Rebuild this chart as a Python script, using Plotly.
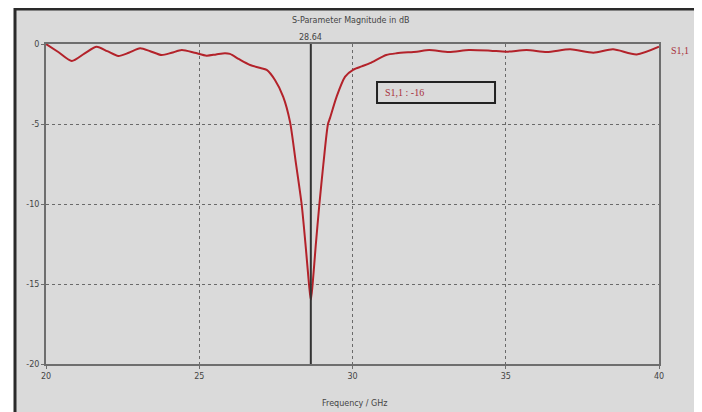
import plotly.graph_objects as go

# Frequency (GHz) and S1,1 magnitude (dB)
freq = [20.0, 20.4, 20.84, 21.25, 21.65, 22.0, 22.36, 22.7, 23.07, 23.4, 23.77, 24.1,
        24.43, 24.85, 25.24, 25.55, 25.84, 26.0, 26.3, 26.66, 27.0, 27.2, 27.47, 27.74,
        27.96, 28.15, 28.34, 28.48, 28.58, 28.64, 28.70, 28.8, 28.92, 29.05, 29.2, 29.27,
        29.48, 29.76, 30.03, 30.3, 30.57, 31.1, 31.44, 32.1, 32.5, 33.15, 33.8, 34.5,
        35.03, 35.68, 36.34, 37.1, 37.86, 38.5, 39.27, 40.0]
s11 = [0.0, -0.5, -1.06, -0.6, -0.17, -0.45, -0.75, -0.55, -0.27, -0.45, -0.69, -0.55,
       -0.38, -0.55, -0.73, -0.65, -0.58, -0.62, -0.95, -1.31, -1.5, -1.62, -2.25, -3.3,
       -4.85, -7.4, -10.0, -12.8, -15.0, -16.0, -15.0, -12.6, -10.0, -7.5, -5.0, -4.6,
       -3.3, -2.04, -1.6, -1.4, -1.2, -0.69, -0.58, -0.48, -0.38, -0.5, -0.375, -0.42,
       -0.48, -0.375, -0.5, -0.33, -0.54, -0.33, -0.65, -0.17]

x_ticks = [20, 25, 30, 35, 40]
y_ticks = [0, -5, -10, -15, -20]
marker_freq = 28.64
marker_label = "28.64"
marker_value_text = "S1,1 : -16"
trace_name = "S1,1"
title_text = "S-Parameter Magnitude in dB"
xaxis_text = "Frequency / GHz"

bg = "#dadada"
red = "#b3222a"

fig = go.Figure()
fig.add_trace(go.Scatter(x=freq, y=s11, mode="lines", name=trace_name,
                         line=dict(color=red, width=2, shape="spline", smoothing=0.7),
                         showlegend=False))

# page body has an 8px margin; compensate so screen pixels match reference
OFF = 8
W, H = 702 - OFF, 412 - OFF
L, R, T, B = 46 - OFF, 659 - OFF, 44 - OFF, 364 - OFF
pw, ph = R - L, B - T

def px(x):
    return (x - OFF - L) / pw

def py(y):
    return (B - (y - OFF)) / ph

shapes = [
    # outer frame
    dict(type="rect", xref="paper", yref="paper", x0=px(15), x1=px(696), y0=py(440), y1=py(9),
         line=dict(color="#2a2a2a", width=3), fillcolor=bg, layer="below"),
    # marker line
    dict(type="line", xref="x", yref="y", x0=marker_freq, x1=marker_freq, y0=-20, y1=0,
         line=dict(color="#333333", width=2)),
    # marker value box
    dict(type="rect", xref="x", yref="y", x0=30.8, x1=34.65, y0=-3.69, y1=-2.375,
         line=dict(color="#222222", width=2), fillcolor="rgba(0,0,0,0)"),
]

annotations = [
    dict(text=title_text, xref="paper", yref="paper", x=px(350), y=py(20), showarrow=False,
         font=dict(family="DejaVu Sans", size=8, color="#444444"), xanchor="center", yanchor="middle"),
    dict(text=marker_label, xref="x", yref="paper", x=marker_freq, y=py(38), showarrow=False,
         font=dict(family="DejaVu Sans", size=8, color="#444444"), xanchor="center", yanchor="middle"),
    dict(text=marker_value_text, xref="x", yref="y", x=31.0, y=-3.03, showarrow=False,
         font=dict(family="Liberation Serif", size=10, color="#a8303c"), xanchor="left", yanchor="middle"),
    dict(text=trace_name, xref="paper", yref="y", x=px(669), y=-0.4, showarrow=False,
         font=dict(family="Liberation Serif", size=10, color="#a8303c"), xanchor="left", yanchor="middle"),
    dict(text=xaxis_text, xref="paper", yref="paper", x=px(355), y=py(403), showarrow=False,
         font=dict(family="DejaVu Sans", size=8, color="#444444"), xanchor="center", yanchor="middle"),
]

axis_common = dict(showgrid=True, gridcolor="#6a6a6a", griddash="dot", gridwidth=1,
                   showline=True, linecolor="#6e6e6e", linewidth=2, mirror=True,
                   ticks="outside", ticklen=3, tickcolor="#6e6e6e", zeroline=False,
                   tickfont=dict(family="DejaVu Sans", size=8, color="#444444"))

fig.update_layout(
    width=W, height=H,
    margin=dict(l=L, r=W - R, t=T, b=H - B, pad=0),
    paper_bgcolor="white", plot_bgcolor=bg,
    shapes=shapes, annotations=annotations,
    xaxis=dict(range=[20, 40], tickvals=x_ticks, ticktext=[str(v) for v in x_ticks], **axis_common),
    yaxis=dict(range=[-20, 0], tickvals=y_ticks, ticktext=[str(v) for v in y_ticks], **axis_common),
)

fig.write_html("out.html")
